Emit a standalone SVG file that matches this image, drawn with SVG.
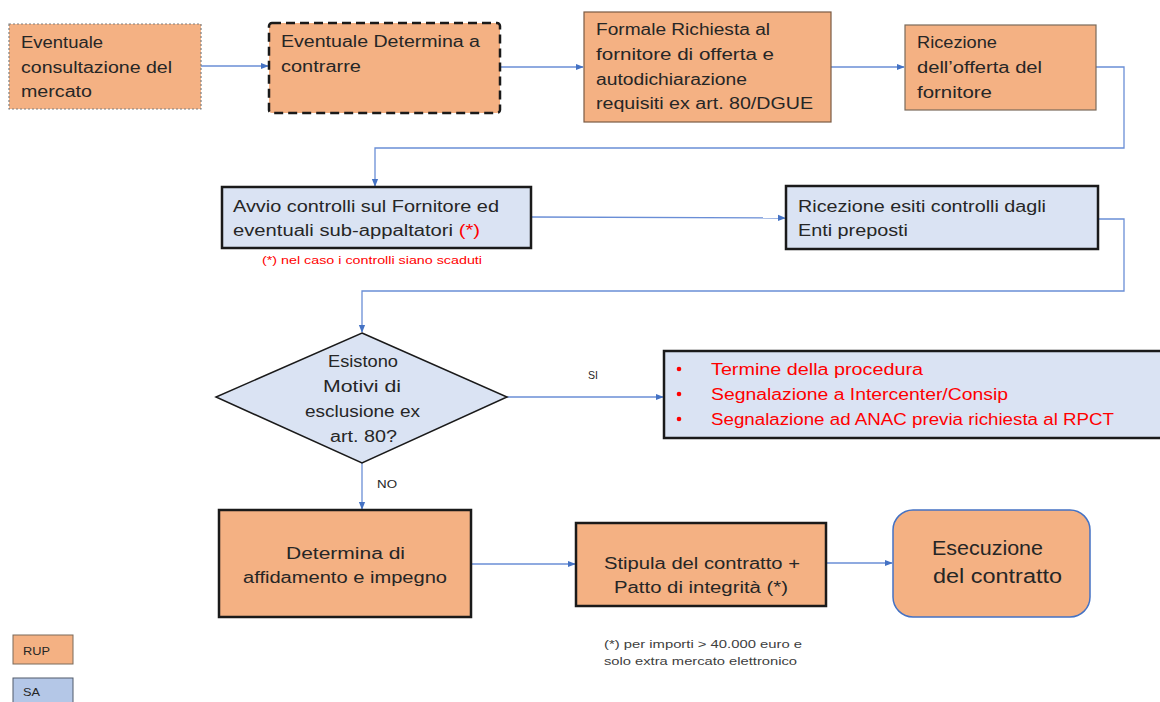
<svg xmlns="http://www.w3.org/2000/svg" width="1160" height="702" viewBox="0 0 1160 702">
<style>
text{font-family:"Liberation Sans",Arial,sans-serif;fill:#262626}
.t{font-size:16px}
.org{fill:#F4B183}
.blu{fill:#DAE3F3}
.thick{stroke:#1a1a1a;stroke-width:2.5}
.c{fill:none;stroke:#6A8ED6;stroke-width:1.3}
.red{fill:#FF0000}
.mid{text-anchor:middle}
.sm{font-size:11px}
</style>
<defs>
<marker id="ah" viewBox="0 0 10 10" refX="9" refY="5" markerWidth="8" markerHeight="8" orient="auto" markerUnits="userSpaceOnUse">
<path d="M0,1 L10,5 L0,9 z" fill="#4472C4"/>
</marker>
</defs>
<g id="connectors">
<path class="c" d="M201,66 L268,66" marker-end="url(#ah)"/>
<path class="c" d="M500,67 L583,67" marker-end="url(#ah)"/>
<path class="c" d="M831,67 L904,67" marker-end="url(#ah)"/>
<path class="c" d="M1096,67 L1124,67 L1124,148 L375,148 L375,186" marker-end="url(#ah)"/>
<path class="c" d="M531,217 L785,218" marker-end="url(#ah)"/>
<path class="c" d="M1098,219 L1124,219 L1124,291 L362,291 L362,332" marker-end="url(#ah)"/>
<path class="c" d="M507,397 L663,397" marker-end="url(#ah)"/>
<path class="c" d="M362,463 L362,509" marker-end="url(#ah)"/>
<path class="c" d="M471,564 L575,564" marker-end="url(#ah)"/>
<path class="c" d="M826,563 L892,563" marker-end="url(#ah)"/>
<text class="sm" x="588" y="379" textLength="10" lengthAdjust="spacingAndGlyphs">SI</text>
<text class="sm" x="377" y="488" textLength="20" lengthAdjust="spacingAndGlyphs">NO</text>
</g>
<g id="n1">
<rect x="9" y="24" width="192" height="85" class="org" stroke="#7f7f7f" stroke-width="1.2" stroke-dasharray="2,2"/>
<text class="t" x="21" y="48" textLength="82" lengthAdjust="spacingAndGlyphs">Eventuale</text>
<text class="t" x="21" y="73" textLength="151" lengthAdjust="spacingAndGlyphs">consultazione del</text>
<text class="t" x="21" y="97" textLength="71" lengthAdjust="spacingAndGlyphs">mercato</text>
</g>
<g id="n2">
<rect x="269" y="23" width="231" height="90" rx="3" class="org" stroke="#1a1a1a" stroke-width="2.5" stroke-dasharray="9,5"/>
<text class="t" x="281" y="47" textLength="199" lengthAdjust="spacingAndGlyphs">Eventuale  Determina  a</text>
<text class="t" x="281" y="72" textLength="80" lengthAdjust="spacingAndGlyphs">contrarre</text>
</g>
<g id="n3">
<rect x="584" y="12" width="247" height="110" class="org" stroke="#7a5a44" stroke-width="1.2"/>
<text class="t" x="596" y="35" textLength="174" lengthAdjust="spacingAndGlyphs">Formale Richiesta al</text>
<text class="t" x="596" y="60" textLength="178" lengthAdjust="spacingAndGlyphs">fornitore di offerta e</text>
<text class="t" x="596" y="85" textLength="151" lengthAdjust="spacingAndGlyphs">autodichiarazione</text>
<text class="t" x="596" y="109" textLength="217" lengthAdjust="spacingAndGlyphs">requisiti  ex art. 80/DGUE</text>
</g>
<g id="n4">
<rect x="905" y="25" width="191" height="85" class="org" stroke="#7a6a5a" stroke-width="1.2"/>
<text class="t" x="917" y="48" textLength="80" lengthAdjust="spacingAndGlyphs">Ricezione</text>
<text class="t" x="917" y="73" textLength="125" lengthAdjust="spacingAndGlyphs">dell’offerta del</text>
<text class="t" x="917" y="98" textLength="75" lengthAdjust="spacingAndGlyphs">fornitore</text>
</g>
<g id="n5">
<rect x="222" y="187" width="309" height="61" class="blu thick"/>
<text class="t" x="233" y="212" textLength="266" lengthAdjust="spacingAndGlyphs">Avvio controlli sul Fornitore ed</text>
<text class="t" x="233" y="236" textLength="247" lengthAdjust="spacingAndGlyphs">eventuali sub-appaltatori <tspan class="red">(*)</tspan></text>
<text class="sm" x="262" y="264" style="fill:#FF0000" textLength="220" lengthAdjust="spacingAndGlyphs">(*) nel caso i controlli siano scaduti</text>
</g>
<g id="n6">
<rect x="786" y="186" width="312" height="63" class="blu thick"/>
<text class="t" x="798" y="212" textLength="248" lengthAdjust="spacingAndGlyphs">Ricezione esiti controlli dagli</text>
<text class="t" x="798" y="236" textLength="110" lengthAdjust="spacingAndGlyphs">Enti preposti</text>
</g>
<g id="n7">
<polygon points="362,333 507,397 362,463 216,397" class="blu" stroke="#1a1a1a" stroke-width="1.5"/>
<text class="t" x="328" y="367" textLength="70" lengthAdjust="spacingAndGlyphs">Esistono</text>
<text class="t" x="323" y="392" textLength="78" lengthAdjust="spacingAndGlyphs">Motivi di</text>
<text class="t" x="305" y="417" textLength="115" lengthAdjust="spacingAndGlyphs">esclusione ex</text>
<text class="t" x="330" y="442" textLength="67" lengthAdjust="spacingAndGlyphs">art. 80?</text>
</g>
<g id="n8">
<rect x="664" y="351" width="500" height="87" class="blu thick"/>
<circle cx="679" cy="369" r="2.3" fill="#FF0000"/>
<circle cx="679" cy="394" r="2.3" fill="#FF0000"/>
<circle cx="679" cy="419" r="2.3" fill="#FF0000"/>
<text class="t red" x="711" y="375" textLength="212" lengthAdjust="spacingAndGlyphs">Termine della procedura</text>
<text class="t red" x="711" y="400" textLength="297" lengthAdjust="spacingAndGlyphs">Segnalazione a Intercenter/Consip</text>
<text class="t red" x="711" y="425" textLength="403" lengthAdjust="spacingAndGlyphs">Segnalazione ad ANAC previa richiesta al RPCT</text>
</g>
<g id="n9">
<rect x="219" y="510" width="252" height="107" class="org thick"/>
<text class="t" x="286" y="559" textLength="119" lengthAdjust="spacingAndGlyphs">Determina  di</text>
<text class="t" x="243" y="583" textLength="204" lengthAdjust="spacingAndGlyphs">affidamento e impegno</text>
</g>
<g id="n10">
<rect x="576" y="523" width="250" height="83" class="org thick"/>
<text class="t" x="604" y="569" textLength="196" lengthAdjust="spacingAndGlyphs">Stipula del contratto +</text>
<text class="t" x="614" y="593" textLength="174" lengthAdjust="spacingAndGlyphs">Patto di integrità (*)</text>
<text class="sm" x="604" y="648" style="fill:#404040" textLength="198" lengthAdjust="spacingAndGlyphs">(*) per importi &gt; 40.000 euro  e</text>
<text class="sm" x="604" y="665" style="fill:#404040" textLength="193" lengthAdjust="spacingAndGlyphs">solo extra mercato elettronico</text>
</g>
<g id="n11">
<rect x="893" y="510" width="197" height="107" rx="20" class="org" stroke="#4472C4" stroke-width="1.5"/>
<text x="932" y="555" style="font-size:20px" textLength="111" lengthAdjust="spacingAndGlyphs">Esecuzione</text>
<text x="933" y="583" style="font-size:20px" textLength="129" lengthAdjust="spacingAndGlyphs">del contratto</text>
</g>
<g id="legend-rup">
<rect x="13" y="635" width="60" height="29" class="org" stroke="#7a6a5a" stroke-width="1"/>
<text class="sm" x="23" y="655" textLength="27" lengthAdjust="spacingAndGlyphs">RUP</text>
</g>
<g id="legend-sa">
<rect x="13" y="678" width="60" height="30" fill="#B4C7E7" stroke="#505a6a" stroke-width="1"/>
<text class="sm" x="23" y="696" textLength="17" lengthAdjust="spacingAndGlyphs">SA</text>
</g>
</svg>
